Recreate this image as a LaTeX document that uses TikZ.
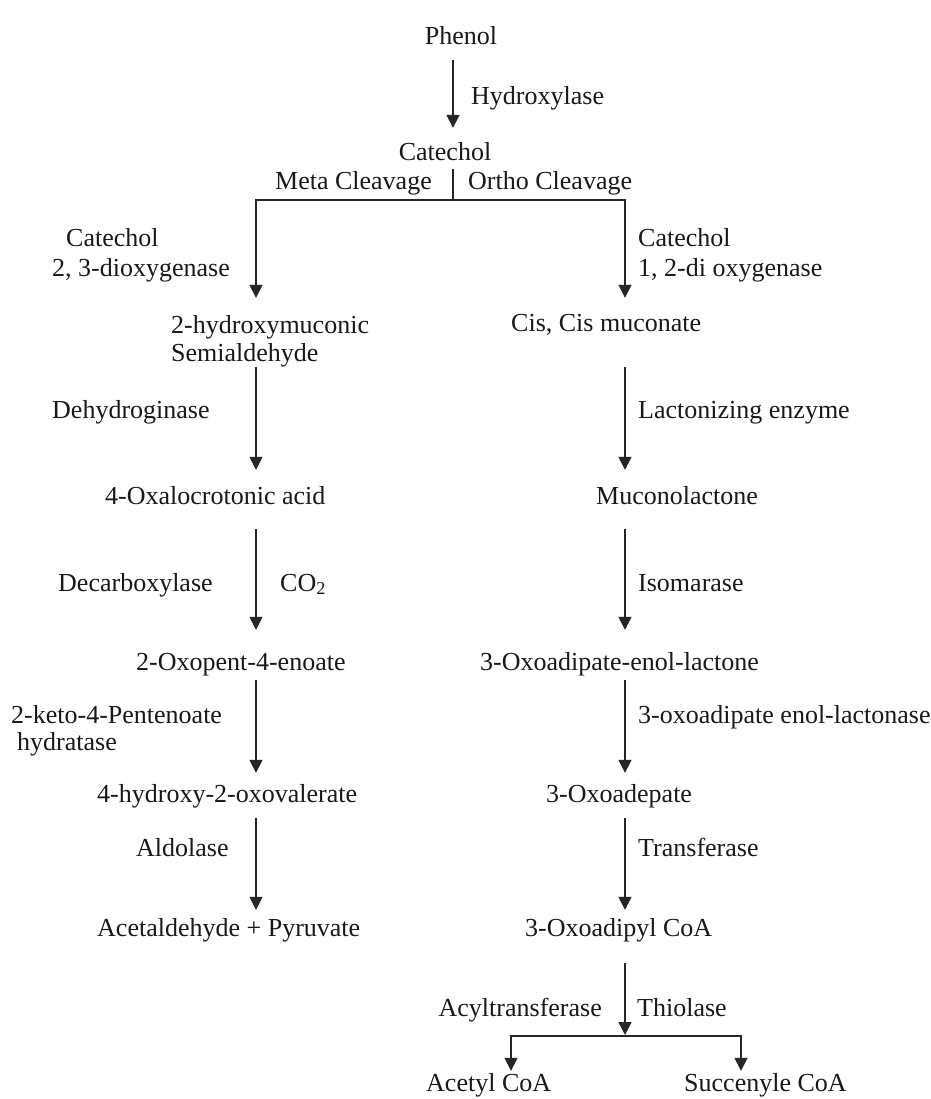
\documentclass[tikz,border=0pt]{standalone}
\usepackage{fontspec}
\setmainfont{Liberation Serif}
\usetikzlibrary{arrows.meta}
\begin{document}
\begin{tikzpicture}[x=1pt,y=-1pt,
  lbl/.style={font=\fontsize{26}{30}\selectfont, text=black!90, inner sep=0pt, text height=19pt, text depth=6pt},
  conn/.style={line width=1.6pt, draw=black!85},
  arr/.style={conn, -{Triangle[width=13pt,length=13pt]}}]
\fill[white] (0,0) rectangle (930,1099);
\useasboundingbox (0,0) rectangle (930,1099);
% column guides
\coordinate (colT) at (453,0);
\coordinate (colL) at (256,0);
\coordinate (colR) at (625,0);
\coordinate (colA) at (511,0);
\coordinate (colS) at (741,0);
\coordinate (br) at (453,200);
\coordinate (br2) at (625,1036);
% top
\node[lbl, anchor=base] (phenol) at (461,45) {Phenol};
\node[lbl, anchor=base west] (hydrox) at (471,105) {Hydroxylase};
\node[lbl, anchor=base] (catechol) at (445,161) {Catechol};
\node[lbl, anchor=base east] (meta) at (432,190) {Meta Cleavage};
\node[lbl, anchor=base west] (ortho) at (468,190) {Ortho Cleavage};
% left column
\node[lbl, anchor=base west] (enzL1a) at (66,247) {Catechol};
\node[lbl, anchor=base west] (enzL1b) at (52,276) {2, 3-dioxygenase};
\node[lbl, anchor=base west] (hms1) at (171,333) {2-hydroxymuconic};
\node[lbl, anchor=base west] (hms2) at (171,361) {Semialdehyde};
\node[lbl, anchor=base west] (enzL2) at (52,418) {Dehydroginase};
\node[lbl, anchor=base west] (oxa) at (105,504) {4-Oxalocrotonic acid};
\node[lbl, anchor=base west] (enzL3) at (58,591) {Decarboxylase};
\node[lbl, anchor=base west] (co2) at (280,591) {CO\textsubscript{2}};
\node[lbl, anchor=base west] (oxo) at (136,670) {2-Oxopent-4-enoate};
\node[lbl, anchor=base west] (enzL4a) at (11,723) {2-keto-4-Pentenoate};
\node[lbl, anchor=base west] (enzL4b) at (17,750) {hydratase};
\node[lbl, anchor=base west] (hov) at (97,802) {4-hydroxy-2-oxovalerate};
\node[lbl, anchor=base west] (enzL5) at (136,856) {Aldolase};
\node[lbl, anchor=base west] (acp) at (97,936) {Acetaldehyde + Pyruvate};
% right column
\node[lbl, anchor=base west] (enzR1a) at (638,247) {Catechol};
\node[lbl, anchor=base west] (enzR1b) at (638,276) {1, 2-di oxygenase};
\node[lbl, anchor=base west] (ccm) at (511,331) {Cis, Cis muconate};
\node[lbl, anchor=base west] (enzR2) at (638,418) {Lactonizing enzyme};
\node[lbl, anchor=base west] (muc) at (596,504) {Muconolactone};
\node[lbl, anchor=base west] (enzR3) at (638,591) {Isomarase};
\node[lbl, anchor=base west] (lac) at (480,670) {3-Oxoadipate-enol-lactone};
\node[lbl, anchor=base west] (enzR4) at (638,723) {3-oxoadipate enol-lactonase};
\node[lbl, anchor=base west] (oxd) at (546,802) {3-Oxoadepate};
\node[lbl, anchor=base west] (enzR5) at (638,856) {Transferase};
\node[lbl, anchor=base west] (ocoa) at (525,936) {3-Oxoadipyl CoA};
\node[lbl, anchor=base east] (acyl) at (602,1016) {Acyltransferase};
\node[lbl, anchor=base west] (thio) at (637,1016) {Thiolase};
\node[lbl, anchor=base west] (acetyl) at (426,1091) {Acetyl CoA};
\node[lbl, anchor=base west] (succ) at (684,1091) {Succenyle CoA};
% connectors
\draw[arr, shorten <=9pt, shorten >=14pt] (phenol.south -| colT) -- (catechol.north -| colT);
\draw[conn, shorten <=2pt] (catechol.south -| colT) -- (br);
\draw[arr, shorten >=16pt] (br) -| (hms1.north -| colL);
\draw[arr, shorten >=14pt] (br) -| (ccm.north -| colR);
% left chain
\draw[arr, shorten >=15pt] (hms2.south -| colL) -- (oxa.north -| colL);
\draw[arr, shorten <=19pt, shorten >=21pt] (oxa.south -| colL) -- (oxo.north -| colL);
\draw[arr, shorten <=4pt, shorten >=10pt] (oxo.south -| colL) -- (hov.north -| colL);
\draw[arr, shorten <=10pt, shorten >=7pt] (hov.south -| colL) -- (acp.north -| colL);
% right chain
\draw[arr, shorten <=30pt, shorten >=15pt] (ccm.south -| colR) -- (muc.north -| colR);
\draw[arr, shorten <=19pt, shorten >=21pt] (muc.south -| colR) -- (lac.north -| colR);
\draw[arr, shorten <=4pt, shorten >=10pt] (lac.south -| colR) -- (oxd.north -| colR);
\draw[arr, shorten <=10pt, shorten >=7pt] (oxd.south -| colR) -- (ocoa.north -| colR);
\draw[arr, shorten <=21pt, shorten >=1pt] (ocoa.south -| colR) -- (br2);
\draw[arr, shorten >=1pt] (br2) -| (acetyl.north -| colA);
\draw[arr, shorten >=1pt] (br2) -| (succ.north -| colS);
\end{tikzpicture}
\end{document}
